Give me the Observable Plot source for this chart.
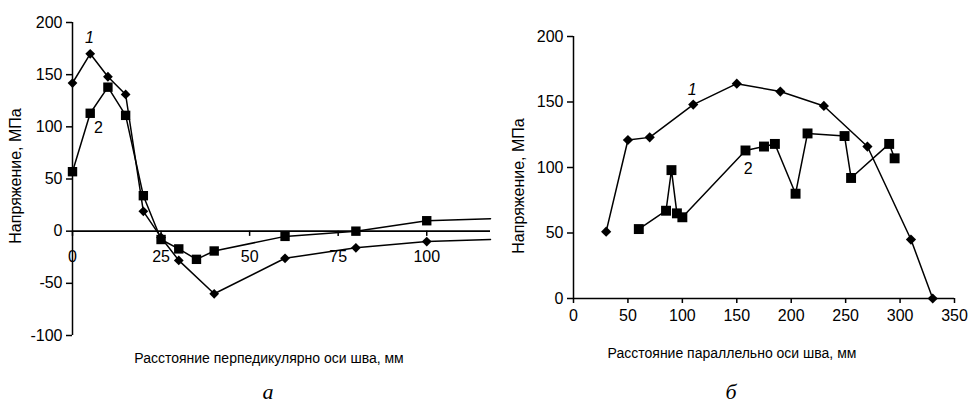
<!DOCTYPE html>
<html><head><meta charset="utf-8">
<script src="https://cdn.jsdelivr.net/npm/d3@7"></script>
<script src="https://cdn.jsdelivr.net/npm/@observablehq/plot@0.6"></script>
<style>
body{margin:0;background:#fff;width:970px;height:410px;position:relative;overflow:hidden;font-family:Arial,"Liberation Sans",sans-serif;color:#000}
.p{position:absolute;top:0}
.t{position:absolute;font-size:14px;transform:translate(-50%,-50%);white-space:nowrap}
.yt{position:absolute;font-size:16px;white-space:nowrap;transform:translate(-50%,-50%) rotate(-90deg)}
.lab{position:absolute;font-family:"Liberation Serif","DejaVu Serif",serif;font-style:italic;font-size:22px;transform:translate(-50%,-50%)}
</style></head><body>
<div id="a" class="p" style="left:0"></div>
<div id="b" class="p" style="left:490px"></div>
<div class="yt" style="left:16px;top:176px">Напряжение, МПа</div>
<div class="yt" style="left:519px;top:186px">Напряжение, МПа</div>
<div class="t" style="left:269px;top:358px">Расстояние перпедикулярно оси шва, мм</div>
<div class="t" style="left:732px;top:353px">Расстояние параллельно оси шва, мм</div>
<div class="lab" style="left:268px;top:392px">а</div>
<div class="lab" style="left:731px;top:392px">б</div>
<script>
// Left chart (a): perpendicular to weld axis
const leftX1 = [0, 5, 10, 15, 20, 25, 30, 40, 60, 80, 100, 118];
const leftY1 = [142, 170, 148, 131, 19, -6, -28, -60, -26, -16, -10, -8];
const leftX2 = [0, 5, 10, 15, 20, 25, 30, 35, 40, 60, 80, 100, 118];
const leftY2 = [57, 113, 138, 111, 34, -8, -17, -27, -19, -5, 0, 10, 12];
const leftXTicks = [0, 25, 50, 75, 100];
const leftYTicks = [-100, -50, 0, 50, 100, 150, 200];
const leftXDomain = [0, 118];
const leftYDomain = [-100, 200];

// Right chart (б): parallel to weld axis
const rightX1 = [30, 50, 70, 110, 150, 190, 230, 270, 310, 330];
const rightY1 = [51, 121, 123, 148, 164, 158, 147, 116, 45, 0];
const rightX2 = [60, 85, 90, 95, 100, 158, 175, 185, 204, 215, 249, 255, 290, 295];
const rightY2 = [53, 67, 98, 65, 62, 113, 116, 118, 80, 126, 124, 92, 118, 107];
const rightXTicks = [0, 50, 100, 150, 200, 250, 300, 350];
const rightYTicks = [0, 50, 100, 150, 200];
const rightXDomain = [0, 350];
const rightYDomain = [0, 200];

const seriesLabels = [
  {chart: "a", x: 4.8, y: 185, text: "1", italic: true},
  {chart: "a", x: 7.3, y: 99, text: "2", italic: false},
  {chart: "b", x: 109, y: 159, text: "1", italic: true},
  {chart: "b", x: 160.5, y: 99, text: "2", italic: false}
];

const FONT = "Arial, 'Liberation Sans', sans-serif";
const zip = (xs, ys) => xs.map((x, i) => ({x, y: ys[i]}));
const fmt = d => String(d);

const L1 = zip(leftX1, leftY1), L2 = zip(leftX2, leftY2);
const R1 = zip(rightX1, rightY1), R2 = zip(rightX2, rightY2);

function seriesMarks(s1, s2, dotFilter, rd, rs) {
  return [
    Plot.line(s1, {x: "x", y: "y", stroke: "#000", strokeWidth: 1.5}),
    Plot.line(s2, {x: "x", y: "y", stroke: "#000", strokeWidth: 1.5}),
    Plot.dot(s1.filter(dotFilter), {x: "x", y: "y", symbol: "diamond2", r: rd, fill: "#000", stroke: "none"}),
    Plot.dot(s2.filter(dotFilter), {x: "x", y: "y", symbol: "square", r: rs, fill: "#000", stroke: "none"})
  ];
}
function labelMarks(chart) {
  const ls = seriesLabels.filter(d => d.chart === chart);
  return [
    Plot.text(ls.filter(d => d.italic), {x: "x", y: "y", text: "text", fontSize: 16, fontStyle: "italic", fill: "#000"}),
    Plot.text(ls.filter(d => !d.italic), {x: "x", y: "y", text: "text", fontSize: 16, fill: "#000"})
  ];
}

const left = Plot.plot({
  width: 495, height: 345,
  marginLeft: 72, marginRight: 5, marginTop: 22, marginBottom: 10,
  style: {fontFamily: FONT, fontSize: "16px", color: "#000", background: "transparent"},
  x: {domain: leftXDomain, axis: null},
  y: {domain: leftYDomain, axis: null},
  marks: [
    Plot.ruleX([0], {y1: leftYDomain[0], y2: leftYDomain[1], stroke: "#000", strokeWidth: 1.5}),
    Plot.ruleY([0], {stroke: "#000", strokeWidth: 1.8}),
    Plot.axisY({ticks: leftYTicks, tickFormat: fmt, tickSize: 6, tickPadding: 4, label: null, fontSize: 16, stroke: "#000", strokeWidth: 1.5}),
    Plot.ruleX(leftXTicks, {x: d => d, y1: 0, y2: -5, stroke: "#000", strokeWidth: 1.5}),
    Plot.text(leftXTicks, {x: d => d, y: 0, dy: 26, text: fmt, fontSize: 16, fill: "#000"}),
    ...seriesMarks(L1, L2, d => d.x <= 100, 4.4, 5.3),
    ...labelMarks("a")
  ]
});
document.getElementById("a").appendChild(left);

const right = Plot.plot({
  width: 480, height: 345,
  marginLeft: 83, marginRight: 16, marginTop: 36, marginBottom: 47,
  style: {fontFamily: FONT, fontSize: "16px", color: "#000", background: "transparent"},
  x: {domain: rightXDomain, axis: null},
  y: {domain: rightYDomain, axis: null},
  marks: [
    Plot.ruleX([0], {y1: rightYDomain[0], y2: rightYDomain[1], stroke: "#000", strokeWidth: 1.5}),
    Plot.ruleY([0], {x1: rightXDomain[0], x2: rightXDomain[1], stroke: "#000", strokeWidth: 1.5}),
    Plot.axisY({ticks: rightYTicks, tickFormat: fmt, tickSize: 6, tickPadding: 4, label: null, fontSize: 16, stroke: "#000", strokeWidth: 1.5}),
    Plot.axisX({ticks: rightXTicks, tickFormat: fmt, tickSize: 5, tickPadding: 6, label: null, fontSize: 16, stroke: "#000", strokeWidth: 1.5}),
    ...seriesMarks(R1, R2, d => true, 4.6, 5.6),
    ...labelMarks("b")
  ]
});
document.getElementById("b").appendChild(right);
</script>
</body></html>
